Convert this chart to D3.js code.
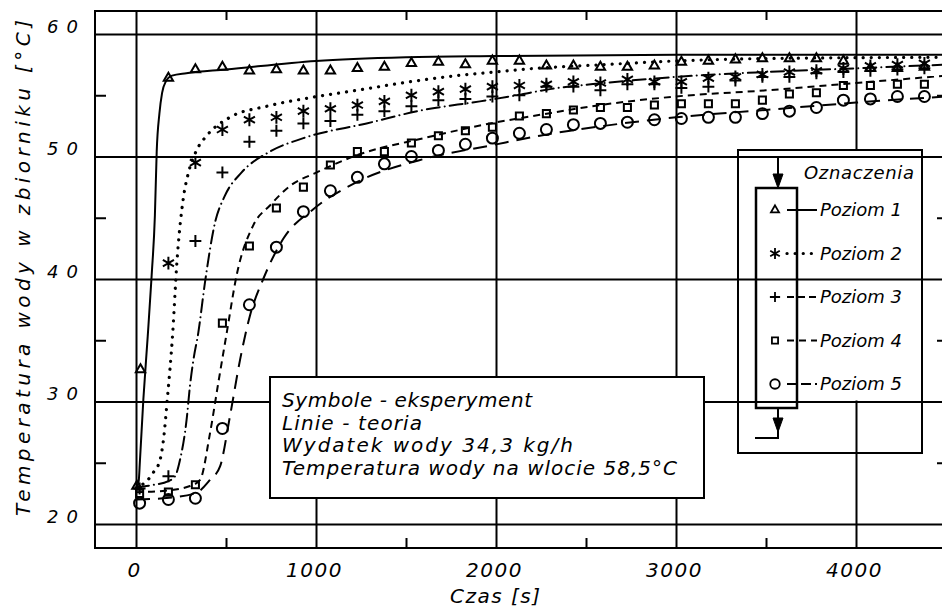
<!DOCTYPE html>
<html>
<head>
<meta charset="utf-8">
<script src="https://cdn.jsdelivr.net/npm/d3@7"></script>
<style>
  body { margin: 0; background: #fff; }
  svg { display: block; }
  text { font-family: "DejaVu Sans", sans-serif; font-style: italic; fill: #000; }
  .domain { display: none; }
</style>
</head>
<body>
<svg id="chart" width="942" height="608"></svg>
<script>
// axis ticks
var timeTicks = [0, 1000, 2000, 3000, 4000]
var minorTimeTicks = [500, 1500, 2500, 3500, 4500]
var tempTicks = [20, 30, 40, 50, 60]
var minorTempTicks = [25, 35, 45, 55]

// theory lines, [czas s, temperatura C]
var theory1 = [[0,22.8],[15,23.5],[22,25.2],[41,30.2],[65,35.3],[87,40.3],[105,45.2],[115,50.4],[130,53.5],[145,55.2],[165,56.1],[200,56.6],[280,56.8],[500,57.1],[1000,57.8],[1500,58.1],[2000,58.2],[3000,58.3],[4500,58.3]]
var theory2 = [[0,22.9],[22,23.1],[60,23.5],[96,24.2],[133,25.2],[152,26.8],[174,30.2],[204,35.6],[226,41.1],[263,46.6],[290,48.6],[333,50.4],[393,51.7],[522,53.2],[726,54.1],[967,54.8],[1226,55.4],[1522,56.1],[1781,56.6],[2000,56.9],[2226,57.2],[2600,57.5],[3000,57.8],[3500,58.0],[4500,58.1]]
var theory3 = [[0,23.0],[100,23.2],[180,23.5],[217,23.9],[244,25.2],[281,28.5],[300,31.3],[319,33.4],[346,35.6],[383,39.7],[439,44.6],[494,46.8],[587,48.7],[744,50.4],[930,51.5],[1281,52.7],[1596,53.8],[1911,54.5],[2115,55.0],[2300,55.5],[2600,56.0],[3000,56.5],[3500,56.9],[4000,57.2],[4500,57.5]]
var theory4 = [[0,22.6],[150,22.7],[300,23.1],[356,23.6],[411,27.4],[457,31.5],[504,35.6],[559,40.3],[652,44.4],[744,46.0],[856,47.6],[1004,48.7],[1226,50.1],[1600,51.5],[1970,52.7],[2244,53.4],[2580,54.2],[3000,54.9],[3500,55.4],[4000,56.0],[4500,56.6]]
var theory5 = [[0,22.0],[150,22.1],[330,22.5],[411,23.6],[467,24.7],[522,28.8],[578,33.4],[633,37.0],[707,40.0],[819,43.3],[985,45.7],[1226,47.9],[1600,49.8],[1970,50.9],[2244,51.7],[2600,52.5],[3000,53.2],[3500,53.8],[4000,54.4],[4500,54.9]]

// experiment points
var exp1 = [[5,23.1],[25,32.6],[180,56.4],[330,57.1],[480,57.3],[630,57.0],[780,57.1],[930,57.0],[1080,57.0],[1230,57.2],[1380,57.3],[1530,57.6],[1680,57.7],[1830,57.5],[1980,57.8],[2130,57.8],[2280,57.4],[2430,57.4],[2580,57.3],[2730,57.3],[2880,57.4],[3030,57.7],[3180,57.8],[3330,57.9],[3480,58.0],[3630,58.0],[3780,58.0],[3930,57.8],[4080,57.2],[4230,57.2],[4380,57.3]]
var exp2 = [[180,41.3],[330,49.5],[480,52.2],[630,53.0],[780,53.2],[930,53.7],[1080,53.9],[1230,54.2],[1380,54.5],[1530,55.0],[1680,55.3],[1830,55.5],[1980,55.7],[2130,55.8],[2280,55.9],[2430,56.1],[2580,56.0],[2730,56.3],[2880,56.1],[3030,56.1],[3180,56.4],[3330,56.5],[3480,56.7],[3630,56.9],[3780,57.0],[3930,57.2],[4080,57.4],[4230,57.5],[4380,57.6]]
var exp3 = [[20,22.9],[180,23.9],[330,43.1],[480,48.7],[630,51.2],[780,52.1],[930,52.7],[1080,52.9],[1230,53.4],[1380,53.7],[1530,54.1],[1680,54.6],[1830,54.7],[1980,54.9],[2130,55.0],[2280,55.7],[2430,55.7],[2580,55.4],[2730,55.9],[2880,55.9],[3030,55.6],[3180,55.7],[3330,56.2],[3480,56.5],[3630,56.5],[3780,56.8],[3930,56.9],[4080,57.0],[4230,57.1],[4380,57.2]]
var exp4 = [[20,22.5],[180,22.6],[330,23.2],[480,36.4],[630,42.7],[780,45.8],[930,47.5],[1080,49.3],[1230,50.4],[1380,50.4],[1530,51.1],[1680,51.7],[1830,52.1],[1980,52.4],[2130,53.3],[2280,53.5],[2430,53.8],[2580,54.0],[2730,54.0],[2880,54.2],[3030,54.3],[3180,54.3],[3330,54.3],[3480,54.6],[3630,55.1],[3780,55.2],[3930,55.8],[4080,55.8],[4230,55.9],[4380,55.9]]
var exp5 = [[20,21.7],[180,22.0],[330,22.1],[480,27.8],[630,37.9],[780,42.6],[930,45.5],[1080,47.2],[1230,48.3],[1380,49.4],[1530,50.0],[1680,50.5],[1830,51.0],[1980,51.5],[2130,51.9],[2280,52.2],[2430,52.6],[2580,52.7],[2730,52.8],[2880,53.0],[3030,53.1],[3180,53.2],[3330,53.2],[3480,53.5],[3630,53.7],[3780,54.0],[3930,54.6],[4080,54.7],[4230,54.9],[4380,54.9]]

var levelNames = ["Poziom 1", "Poziom 2", "Poziom 3", "Poziom 4", "Poziom 5"]
var noteLines = ["Symbole - eksperyment", "Linie - teoria", "Wydatek wody 34,3 kg/h", "Temperatura wody na wlocie 58,5°C"]

var theory = [theory1, theory2, theory3, theory4, theory5]
var experiment = [exp1, exp2, exp3, exp4, exp5]
var symbols = [d3.symbolTriangle2, d3.symbolAsterisk, d3.symbolPlus, d3.symbolSquare2, d3.symbolCircle]
var symSize = [62, 115, 48, 64, 95]
var dashes = [null, "0.1,8", "13,5,0.1,5", "7,5", "14,8"]
var widths = [2, 3.2, 2, 2, 2]

// frame (window.top is reserved, so fTop)
var fLeft = 95, fTop = 11, fBottom = 548, fRight = 947

var x = d3.scaleLinear().domain([0, 4000]).range([136, 856])
var y = d3.scaleLinear().domain([20, 60]).range([524, 34])

var svg = d3.select("#chart")

function strip(g) {
  g.selectAll("line").attr("stroke", "#000").attr("stroke-width", 2)
  g.selectAll("text").remove()
}

// vertical grid + minor ticks
svg.append("g").attr("transform", "translate(0," + fBottom + ")")
  .call(d3.axisBottom(x).tickValues(timeTicks).tickSize(-(fBottom - fTop)))
  .call(strip)
svg.append("g").attr("transform", "translate(0," + fBottom + ")")
  .call(d3.axisBottom(x).tickValues(minorTimeTicks).tickSize(-10))
  .call(strip)
svg.append("g").attr("transform", "translate(0," + fTop + ")")
  .call(d3.axisTop(x).tickValues(minorTimeTicks).tickSize(-9))
  .call(strip)

// legend box (white behind horizontal grid)
var lg = { x0: 738, x1: 922, y0: 150, y1: 453 }
svg.append("rect").attr("x", lg.x0).attr("y", lg.y0)
  .attr("width", lg.x1 - lg.x0).attr("height", y(30) - lg.y0 - 1).attr("fill", "#fff")

// horizontal grid + minor ticks
svg.append("g").attr("transform", "translate(" + fLeft + ",0)")
  .call(d3.axisLeft(y).tickValues(tempTicks).tickSize(-(fRight - fLeft)))
  .call(strip)
svg.append("g").attr("transform", "translate(" + fLeft + ",0)")
  .call(d3.axisLeft(y).tickValues(minorTempTicks).tickSize(-11))
  .call(strip)
svg.append("g").attr("transform", "translate(" + fRight + ",0)")
  .call(d3.axisRight(y).tickValues(minorTempTicks).tickSize(-10))
  .call(strip)

svg.append("rect").attr("x", fLeft).attr("y", fTop)
  .attr("width", fRight - fLeft).attr("height", fBottom - fTop)
  .attr("fill", "none").attr("stroke", "#000").attr("stroke-width", 2)

// tick labels
var xl = svg.append("g").attr("transform", "translate(0," + fBottom + ")")
  .call(d3.axisBottom(x).tickValues(timeTicks).tickSize(0).tickFormat(d3.format("d")))
xl.selectAll("text").attr("y", 29).attr("dy", null).attr("x", -2)
  .style("font-size", "20px").style("letter-spacing", "1.5px")

var yl = svg.append("g").attr("transform", "translate(" + fLeft + ",0)")
  .call(d3.axisLeft(y).tickValues(tempTicks).tickSize(0))
yl.selectAll("text").attr("x", -48).attr("dy", null).attr("y", -2)
  .attr("text-anchor", "start")
  .style("font-size", "18px").style("letter-spacing", "8px")

svg.append("text").attr("x", 450).attr("y", 603)
  .attr("textLength", 90).attr("lengthAdjust", "spacing")
  .style("font-size", "20px")
  .text("Czas [s]")

svg.append("text").attr("transform", "translate(30,516) rotate(-90)")
  .attr("textLength", 496).attr("lengthAdjust", "spacing")
  .style("font-size", "20px")
  .text("Temperatura wody w zbiorniku [°C]")

// theory lines
var line = d3.line().x(d => x(d[0])).y(d => y(d[1])).curve(d3.curveMonotoneX)
theory.forEach(function(s, i) {
  svg.append("path").datum(s)
    .attr("d", line)
    .attr("fill", "none").attr("stroke", "#000")
    .attr("stroke-width", widths[i])
    .attr("stroke-linecap", i == 1 || i == 2 ? "round" : "butt")
    .attr("stroke-dasharray", dashes[i])
})

// experiment points
experiment.forEach(function(s, i) {
  svg.append("g").selectAll("path").data(s).enter().append("path")
    .attr("transform", d => "translate(" + x(d[0]) + "," + y(d[1]) + ")")
    .attr("d", d3.symbol().type(symbols[i]).size(symSize[i]))
    .attr("fill", "none").attr("stroke", "#000").attr("stroke-width", 2)
})

// note box
var nb = svg.append("g")
nb.append("rect").attr("x", 270).attr("y", 377).attr("width", 434).attr("height", 121)
  .attr("fill", "#fff").attr("stroke", "#000").attr("stroke-width", 2)
var noteWidths = [250, 140, 291, 395]
nb.selectAll("text").data(noteLines).enter().append("text")
  .attr("x", 282).attr("y", (d, i) => 407 + i * 22.7)
  .attr("textLength", (d, i) => noteWidths[i]).attr("lengthAdjust", "spacing")
  .style("font-size", "20px")
  .text(d => d)

// legend
var lgg = svg.append("g")
lgg.append("rect").attr("x", lg.x0).attr("y", lg.y0)
  .attr("width", lg.x1 - lg.x0).attr("height", lg.y1 - lg.y0)
  .attr("fill", "none").attr("stroke", "#000").attr("stroke-width", 2)
lgg.append("rect").attr("x", 756).attr("y", 188).attr("width", 41).attr("height", 220)
  .attr("fill", "none").attr("stroke", "#000").attr("stroke-width", 2.5)
lgg.append("path").attr("d", "M778,157V178 M778,408V424 M778,424V438H755")
  .attr("fill", "none").attr("stroke", "#000").attr("stroke-width", 2)
lgg.append("path").attr("d", "M773,174L783,174L778,188Z M773,418L783,418L778,432Z")
  .attr("fill", "#000").attr("stroke", "#000").attr("stroke-width", 1)
lgg.append("text").attr("x", 804).attr("y", 179)
  .attr("textLength", 110).attr("lengthAdjust", "spacing")
  .style("font-size", "18px").text("Oznaczenia")

var rowY = d3.scalePoint().domain(levelNames).range([210, 384])
levelNames.forEach(function(name, i) {
  var ry = rowY(name)
  lgg.append("path")
    .attr("transform", "translate(775," + ry + ")")
    .attr("d", d3.symbol().type(symbols[i]).size(symSize[i] * 0.75))
    .attr("fill", "none").attr("stroke", "#000").attr("stroke-width", 1.8)
  lgg.append("line").attr("x1", 787).attr("x2", 817).attr("y1", ry).attr("y2", ry)
    .attr("stroke", "#000").attr("stroke-width", widths[i])
    .attr("stroke-linecap", i == 1 ? "round" : "butt")
    .attr("stroke-dasharray", i == 2 ? "7,4" : dashes[i] == "14,8" ? "10,4" : dashes[i])
  lgg.append("text").attr("x", 820).attr("y", ry + 6)
    .attr("textLength", 82).attr("lengthAdjust", "spacing")
    .style("font-size", "18px")
    .text(name)
})
</script>
</body>
</html>
